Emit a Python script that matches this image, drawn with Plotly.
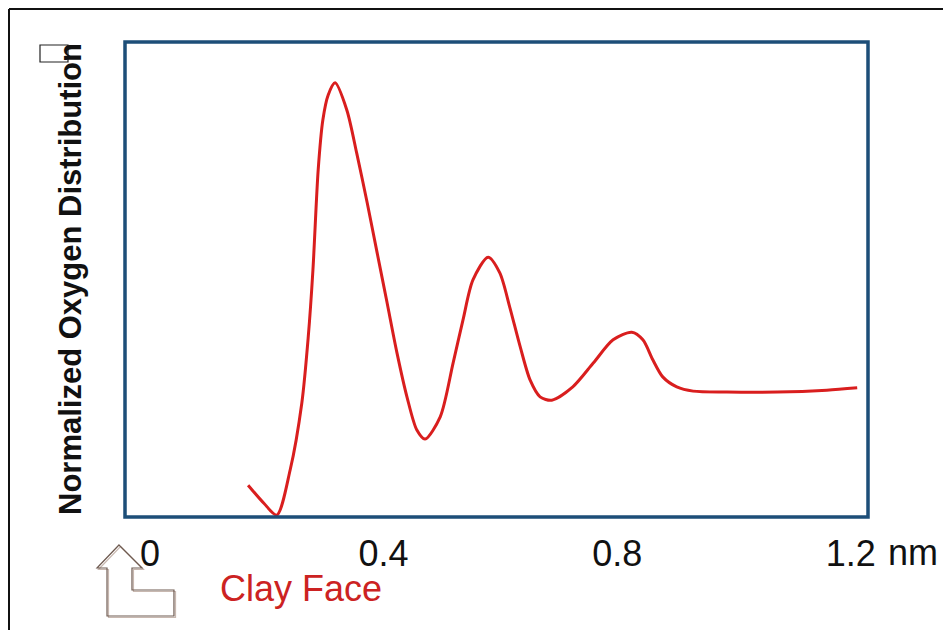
import plotly.graph_objects as go

# ---- data ----
distance_nm = [0.168, 0.195, 0.217, 0.240, 0.260, 0.271, 0.279, 0.288, 0.296, 0.305,
               0.317, 0.337, 0.354, 0.372, 0.389, 0.406, 0.423, 0.440, 0.457, 0.471,
               0.497, 0.519, 0.536, 0.553, 0.579, 0.599, 0.616, 0.634, 0.651, 0.668,
               0.688, 0.724, 0.759, 0.793, 0.825, 0.844, 0.861, 0.878, 0.902, 0.930,
               0.988, 1.074, 1.159, 1.211]
oxygen_density = [0.067, 0.029, 0.004, 0.099, 0.240, 0.379, 0.520, 0.731, 0.836, 0.888,
                  0.914, 0.857, 0.766, 0.661, 0.556, 0.451, 0.345, 0.253, 0.183, 0.164,
                  0.211, 0.324, 0.415, 0.499, 0.547, 0.514, 0.442, 0.358, 0.288, 0.253,
                  0.246, 0.274, 0.324, 0.373, 0.389, 0.373, 0.331, 0.295, 0.274, 0.265,
                  0.263, 0.263, 0.267, 0.272]
tick_values = [0, 0.4, 0.8, 1.2]
tick_labels = ["0", "0.4", "0.8", "1.2"]
y_title = "Normalized Oxygen Distribution"
unit_label = "nm"
face_label = "Clay Face"

# ---- layout geometry (pixels of the 951x638 page; body has an 8px margin) ----
PAGE_W, PAGE_H, BODY = 951, 638, 8
W, H = PAGE_W - BODY, PAGE_H - 2 * BODY
L, R, T, B = 125, 868, 42, 517


def px(x):
    return (x - L) / (R - L)


def py(y):
    return (B - y) / (B - T)


fig = go.Figure()
fig.add_trace(go.Scatter(
    x=distance_nm, y=oxygen_density, mode="lines",
    line=dict(color="#d91e1e", width=3, shape="spline", smoothing=0.8),
    hoverinfo="skip", showlegend=False,
))

arrow_pts = [(119, 545), (142, 568), (132, 568), (132, 590), (174, 590), (174, 616),
             (107, 616), (107, 568), (97, 568)]


def path_of(pts, dx=0, dy=0):
    return "M " + " L ".join(f"{px(x + dx):.4f},{py(y + dy):.4f}" for x, y in pts) + " Z"


shapes = [
    # plot frame
    dict(type="rect", xref="paper", yref="paper", x0=0, x1=1, y0=0, y1=1,
         line=dict(color="#1d4e78", width=3.5), layer="above"),
    # outer page border (top and left)
    dict(type="line", xref="paper", yref="paper", x0=px(9), x1=px(951), y0=py(9), y1=py(9),
         line=dict(color="#111111", width=2)),
    dict(type="line", xref="paper", yref="paper", x0=px(9), x1=px(9), y0=py(9), y1=py(638),
         line=dict(color="#111111", width=2)),
    # small box near the axis title
    dict(type="rect", xref="paper", yref="paper", x0=px(40), x1=px(68), y0=py(62), y1=py(45),
         line=dict(color="#222222", width=1.2), fillcolor="rgba(255,255,255,0)", layer="above"),
    # outlined arrow icon
    dict(type="path", xref="paper", yref="paper", path=path_of(arrow_pts, 1.5, 1.5),
         line=dict(color="#c8b8b0", width=1.2)),
    dict(type="path", xref="paper", yref="paper", path=path_of(arrow_pts),
         line=dict(color="#6e5a50", width=1.2)),
]

annotations = [
    dict(text=f"<b>{y_title}</b>", xref="paper", yref="paper", x=px(70), y=py(279),
         textangle=-90, showarrow=False, xanchor="center", yanchor="middle",
         font=dict(family="Liberation Sans, Arial", size=31, color="#111111")),
    dict(text=unit_label, xref="paper", yref="paper", x=px(886), y=py(552),
         showarrow=False, xanchor="left", yanchor="middle",
         font=dict(family="Liberation Sans, Arial", size=36, color="#111111")),
    dict(text=face_label, xref="paper", yref="paper", x=px(301), y=py(588),
         showarrow=False, xanchor="center", yanchor="middle",
         font=dict(family="Liberation Sans, Arial", size=36, color="#cc2222")),
]

fig.update_layout(
    width=W, height=H,
    margin=dict(l=L - BODY, r=PAGE_W - R, t=T - BODY, b=H - (B - BODY)),
    paper_bgcolor="white", plot_bgcolor="white",
    shapes=shapes, annotations=annotations,
    xaxis=dict(range=[-0.0428, 1.2295], tickvals=tick_values, ticktext=tick_labels,
               showgrid=False, zeroline=False, showline=False, ticks="",
               ticklabelstandoff=12,
               tickfont=dict(family="Liberation Sans, Arial", size=36, color="#111111")),
    yaxis=dict(range=[0, 1], showticklabels=False, showgrid=False, zeroline=False,
               showline=False, ticks=""),
)

fig.write_html("out.html")
